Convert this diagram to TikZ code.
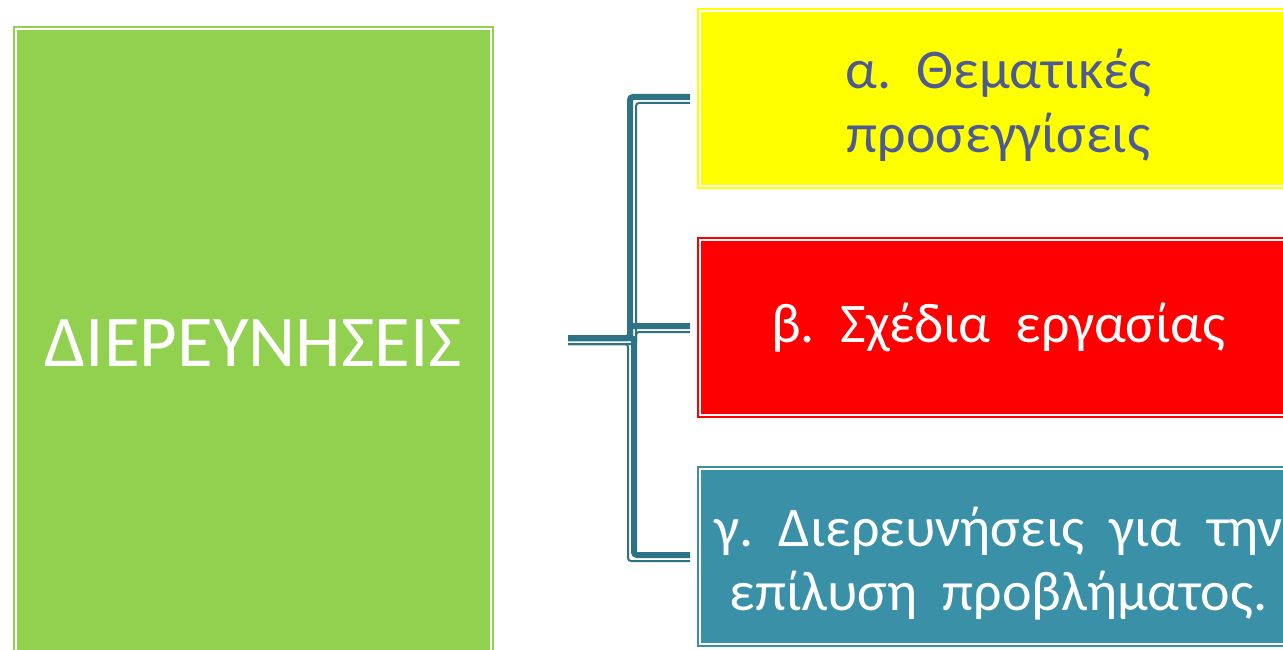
\documentclass[tikz,border=0pt]{standalone}
\usepackage{fontspec}
\setmainfont{Carlito}
\usetikzlibrary{positioning}
\usetikzlibrary{calc}
\definecolor{boxgreen}{HTML}{92D050}
\definecolor{boxyellow}{HTML}{FFFF00}
\definecolor{boxred}{HTML}{FF0000}
\definecolor{boxteal}{HTML}{3A91A7}
\definecolor{linkteal}{HTML}{2E7385}
\definecolor{textslate}{HTML}{4E5B93}
\tikzstyle{framebox}=[rectangle,line width=2pt,double=white,double distance=2pt,inner sep=0pt,outer sep=0pt,align=center]
\tikzstyle{mainbox}=[framebox,minimum width=475pt,minimum height=628pt,fill=boxgreen,draw=boxgreen,text=white,font=\fontsize{73}{84}\selectfont]
\tikzstyle{topicbox}=[framebox,minimum width=597pt,minimum height=175pt,font=\fontsize{56}{64}\selectfont]
\tikzstyle{thickline} = [draw=linkteal,line width=6pt,rounded corners=3pt]
\tikzstyle{thinline} = [draw=linkteal,line width=2pt,rounded corners=3pt]

\begin{document}
\begin{tikzpicture}[x=1pt,y=-1pt]
    % Keep the page to the size of the slide crop
    \path[use as bounding box,clip] (0,0) rectangle (1283,650);

    % First the main box
    \node[mainbox] (main) at (253.5,343) {ΔΙΕΡΕΥΝΗΣΕΙΣ};

    % Then the three topic boxes (the strut pushes the two lines down a bit)
    \node[topicbox,fill=boxyellow,draw=boxyellow,text=textslate] (alpha) at (998.5,98.5) {\rule{0pt}{54pt}α.~~Θεματικές\\προσεγγίσεις};
    \node[topicbox,fill=boxred,draw=boxred,text=white] (beta) at (998.5,327.5) {β.~~Σχέδια~~εργασίας};
    \node[topicbox,fill=boxteal,draw=boxteal,text=white] (gamma) at (998.5,556.5) {\rule{0pt}{54pt}γ.~~Διερευνήσεις~~για~~την\\επίλυση~~προβλήματος.};

    % The bracket starts here
    \coordinate (hub) at (568,340);

    % Connect the hub with each box (thick-thin line)
    \foreach \dest/\thickx/\thinx in {alpha/62/68, beta/62/68, gamma/66/60}
    {
        \path[thickline] ($(hub)+(0,-2)$) -- ++(\thickx,0) |- ($(\dest.west)+(-10,-1.5)$);
        \path[thinline] ($(hub)+(0,4)$) -- ++(\thinx,0) |- ($(\dest.west)+(-10,4.5)$);
    }
\end{tikzpicture}
\end{document}
